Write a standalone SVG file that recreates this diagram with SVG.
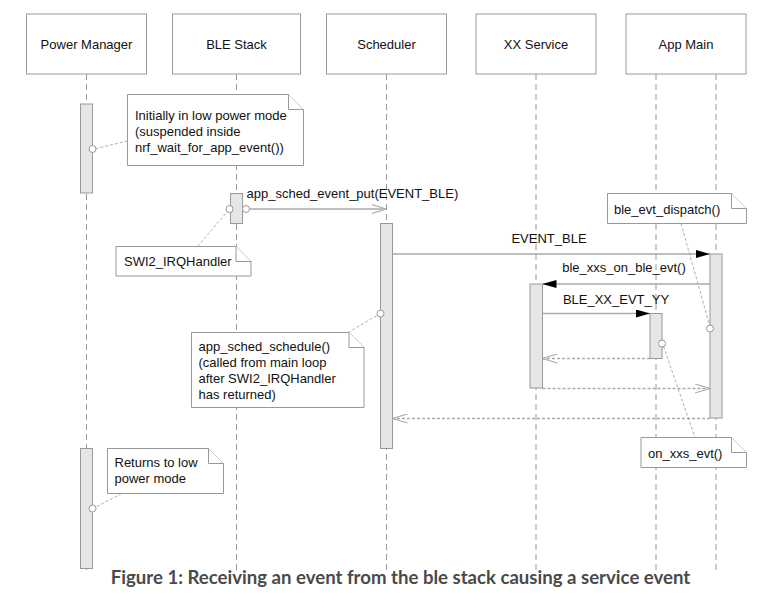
<svg xmlns="http://www.w3.org/2000/svg" width="765" height="597" viewBox="0 0 765 597">
<style>
.box{fill:#fff;stroke:#999;stroke-width:1}
.lbl{font-family:"Liberation Sans",Arial,sans-serif;font-size:13px;fill:#111}
.life{stroke:#999;stroke-width:1;stroke-dasharray:6,4;fill:none}
.act{fill:#e6e6e6;stroke:#999;stroke-width:1}
.note{fill:#fff;stroke:#999;stroke-width:1}
.link{stroke:#999;stroke-width:0.8;stroke-dasharray:3,2;fill:none}
.dot{fill:#fff;stroke:#999;stroke-width:1}
.msg{stroke:#aaa;stroke-width:1.3;fill:none}
.ret{stroke:#aaa;stroke-width:1.3;stroke-dasharray:3,2;fill:none}
.cap{font-family:Lato,"Liberation Sans",sans-serif;font-weight:bold;font-size:18.6px;fill:#4a4a4a}
</style>
<defs>
<marker id="filled" viewBox="0 0 14 8" refX="14" refY="4" markerWidth="14" markerHeight="8" markerUnits="userSpaceOnUse" orient="auto">
<path d="M0,0 L14,4 L0,8 Z" fill="#000"/>
</marker>
<marker id="openarr" viewBox="0 0 16 10" refX="15" refY="5" markerWidth="16" markerHeight="10" markerUnits="userSpaceOnUse" orient="auto">
<path d="M0,0.5 L15,5 L0,9.5" fill="none" stroke="#aaa" stroke-width="1.1"/>
</marker>
</defs>
<rect width="765" height="597" fill="#fff"/>

<g id="lifelines">
<line class="life" x1="86.5" y1="74" x2="86.5" y2="570"/>
<line class="life" x1="236.5" y1="74" x2="236.5" y2="570"/>
<line class="life" x1="386.5" y1="74" x2="386.5" y2="570"/>
<line class="life" x1="536" y1="74" x2="536" y2="570"/>
<line class="life" x1="656" y1="74" x2="656" y2="570"/>
<line class="life" x1="716" y1="74" x2="716" y2="570"/>
</g>

<g id="power-manager">
<rect class="box" x="26.5" y="14" width="120" height="60"/>
<text class="lbl" x="86.5" y="48.5" text-anchor="middle">Power Manager</text>
</g>
<g id="ble-stack">
<rect class="box" x="172.5" y="14" width="128" height="60"/>
<text class="lbl" x="236.5" y="48.5" text-anchor="middle">BLE Stack</text>
</g>
<g id="scheduler">
<rect class="box" x="326.5" y="14" width="120" height="60"/>
<text class="lbl" x="386.5" y="48.5" text-anchor="middle">Scheduler</text>
</g>
<g id="xx-service">
<rect class="box" x="476" y="14" width="120" height="60"/>
<text class="lbl" x="536" y="48.5" text-anchor="middle">XX Service</text>
</g>
<g id="app-main">
<rect class="box" x="626" y="14" width="120" height="60"/>
<text class="lbl" x="686" y="48.5" text-anchor="middle">App Main</text>
</g>

<g id="activations">
<rect class="act" x="80.5" y="104" width="12" height="89"/>
<rect class="act" x="230.5" y="193.5" width="12" height="30"/>
<rect class="act" x="380.5" y="223.5" width="12" height="225"/>
<rect class="act" x="80.5" y="448.5" width="12" height="120"/>
<rect class="act" x="710" y="254" width="12" height="164"/>
<rect class="act" x="530" y="284" width="12.5" height="104"/>
<rect class="act" x="650" y="313.5" width="12" height="45"/>
</g>

<g id="connectors">
<line class="msg" x1="249.5" y1="209" x2="386.5" y2="209" marker-end="url(#openarr)"/>
<circle class="dot" cx="246" cy="209" r="3.5"/>
<text class="lbl" x="246.5" y="198">app_sched_event_put(EVENT_BLE)</text>

<line class="msg" x1="392.5" y1="254" x2="710" y2="254" marker-end="url(#filled)"/>
<text class="lbl" x="549" y="243" text-anchor="middle">EVENT_BLE</text>

<line class="msg" x1="710" y1="284" x2="542.5" y2="284" marker-end="url(#filled)"/>
<text class="lbl" x="624" y="272" text-anchor="middle">ble_xxs_on_ble_evt()</text>

<line class="msg" x1="542.5" y1="313.5" x2="650" y2="313.5" marker-end="url(#filled)"/>
<text class="lbl" x="616" y="303.5" text-anchor="middle">BLE_XX_EVT_YY</text>

<line class="ret" x1="650" y1="358.5" x2="542.5" y2="358.5" marker-end="url(#openarr)"/>
<line class="ret" x1="542.5" y1="388.5" x2="710" y2="388.5" marker-end="url(#openarr)"/>
<line class="ret" x1="710" y1="418.5" x2="392.5" y2="418.5" marker-end="url(#openarr)"/>
</g>

<g id="note-initially">
<line class="link" x1="127.5" y1="141" x2="96" y2="148.5"/>
<circle class="dot" cx="92.5" cy="149" r="3.5"/>
<path class="note" d="M127.5,94.5 L288.5,94.5 L303.5,109.5 L303.5,165.5 L127.5,165.5 Z"/>
<path class="note" d="M288.5,94.5 L288.5,109.5 L303.5,109.5" fill="none"/>
<text class="lbl" x="135" y="119.5">Initially in low power mode</text>
<text class="lbl" x="135" y="135.5">(suspended inside</text>
<text class="lbl" x="135" y="151.5">nrf_wait_for_app_event())</text>
</g>

<g id="note-swi2">
<line class="link" x1="197.5" y1="246.5" x2="227" y2="212" stroke-dasharray="none"/>
<circle class="dot" cx="229.5" cy="209" r="3.5"/>
<path class="note" d="M116,246.5 L236,246.5 L251,261.5 L251,276 L116,276 Z"/>
<path class="note" d="M236,246.5 L236,261.5 L251,261.5" fill="none"/>
<text class="lbl" x="124" y="266">SWI2_IRQHandler</text>
</g>

<g id="note-dispatch">
<line class="link" x1="681" y1="223.5" x2="709.5" y2="325"/>
<circle class="dot" cx="710" cy="328.5" r="3.5"/>
<path class="note" d="M607.5,193.5 L731.5,193.5 L746.5,208.5 L746.5,223.5 L607.5,223.5 Z"/>
<path class="note" d="M731.5,193.5 L731.5,208.5 L746.5,208.5" fill="none"/>
<text class="lbl" x="614" y="214">ble_evt_dispatch()</text>
</g>

<g id="note-on-xxs">
<line class="link" x1="663.5" y1="346.5" x2="695" y2="437.5"/>
<circle class="dot" cx="662" cy="343.5" r="3.5"/>
<path class="note" d="M641,437.5 L731.5,437.5 L746.5,452.5 L746.5,467.5 L641,467.5 Z"/>
<path class="note" d="M731.5,437.5 L731.5,452.5 L746.5,452.5" fill="none"/>
<text class="lbl" x="648" y="458">on_xxs_evt()</text>
</g>

<g id="note-sched">
<line class="link" x1="348" y1="332.5" x2="377" y2="315.5"/>
<circle class="dot" cx="380.5" cy="313.5" r="3.5"/>
<path class="note" d="M191.5,332.5 L349,332.5 L364,347.5 L364,407.5 L191.5,407.5 Z"/>
<path class="note" d="M349,332.5 L349,347.5 L364,347.5" fill="none"/>
<text class="lbl" x="198.5" y="350.5">app_sched_schedule()</text>
<text class="lbl" x="198.5" y="366.5">(called from main loop</text>
<text class="lbl" x="198.5" y="382.5">after SWI2_IRQHandler</text>
<text class="lbl" x="198.5" y="398.5">has returned)</text>
</g>

<g id="note-returns">
<line class="link" x1="121.5" y1="493.5" x2="96" y2="507"/>
<circle class="dot" cx="92.5" cy="508.5" r="3.5"/>
<path class="note" d="M107.5,448.5 L208.5,448.5 L223.5,463.5 L223.5,493.5 L107.5,493.5 Z"/>
<path class="note" d="M208.5,448.5 L208.5,463.5 L223.5,463.5" fill="none"/>
<text class="lbl" x="114.5" y="467">Returns to low</text>
<text class="lbl" x="114.5" y="483">power mode</text>
</g>

<text class="cap" x="400.5" y="584" text-anchor="middle">Figure 1: Receiving an event from the ble stack causing a service event</text>
</svg>
